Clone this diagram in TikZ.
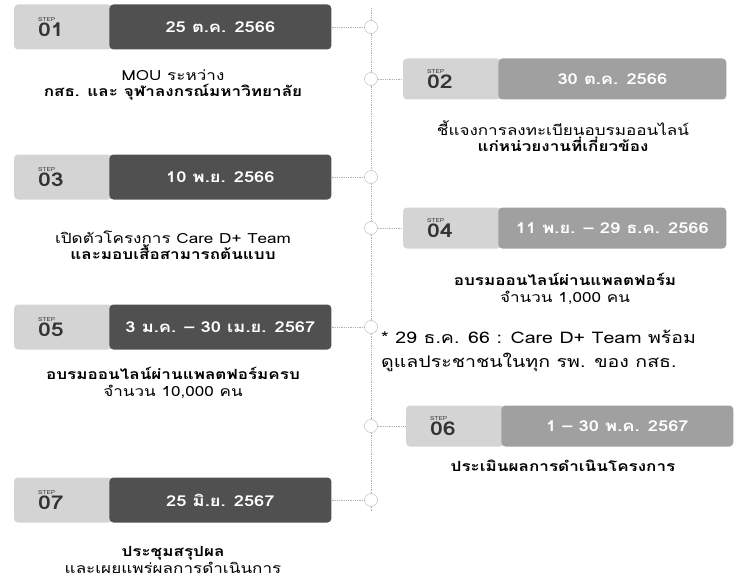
\documentclass[tikz,border=0pt]{standalone}
\usepackage{fontspec}
\setmainfont{Loma}[Script=Thai, FakeStretch=1.22]
\usetikzlibrary{positioning}
\definecolor{tabgray}{HTML}{D4D4D4}
\definecolor{darkdate}{HTML}{505050}
\definecolor{lightdate}{HTML}{A0A0A0}
\definecolor{linegray}{HTML}{B0B0B0}

\newcommand{\stepno}[1]{{\fontsize{5.5}{6}\selectfont STEP}\par\vspace{1pt}{\fontsize{19}{19}\selectfont\bfseries #1}}

\begin{document}
\begin{tikzpicture}[x=1pt, y=-1pt,
  tabbox/.style={rectangle, rounded corners=4pt, fill=tabgray, minimum width=98pt,
    text width=50pt, align=left, inner sep=0pt, text=black!80},
  datebox/.style={rectangle, rounded corners=4pt, text=white, inner sep=0pt,
    font=\fontsize{15}{15}\selectfont\bfseries},
  caption/.style={align=center, font=\fontsize{14}{16.5}\selectfont},
  dot/.style={circle, draw=linegray, fill=white, minimum size=13pt, inner sep=0pt},
  link/.style={densely dotted, draw=linegray, thick}]
  \useasboundingbox (0,0) rectangle (740,586);

  % timeline
  \coordinate (top) at (371,8);
  \coordinate (bottom) at (371,512);
  \node[dot] (dot01) at (371,27) {};
  \node[dot] (dot02) at (371,79) {};
  \node[dot] (dot03) at (371,177) {};
  \node[dot] (dot04) at (371,228) {};
  \node[dot] (dot05) at (371,327) {};
  \node[dot] (dot06) at (371,426) {};
  \node[dot] (dot07) at (371,500) {};
  \draw[link] (top) -- (dot01) -- (dot02) -- (dot03) -- (dot04) -- (dot05)
    -- (dot06) -- (dot07) -- (bottom);

  % left steps
  \node[tabbox, minimum height=45pt] (tab01) at (63,27) {\stepno{01}};
  \node[datebox, fill=darkdate, minimum width=222pt, minimum height=45pt,
        right=-3pt of tab01] (date01) {25 ต.ค. 2566};
  \node[caption] (cap01) at (173,85) {MOU ระหว่าง\\\textbf{กสธ. และ จุฬาลงกรณ์มหาวิทยาลัย}};

  \node[tabbox, minimum height=45pt] (tab03) at (63,177) {\stepno{03}};
  \node[datebox, fill=darkdate, minimum width=222pt, minimum height=45pt,
        right=-3pt of tab03] (date03) {10 พ.ย. 2566};
  \node[caption] (cap03) at (173,245) {เปิดตัวโครงการ Care D+ Team\\\textbf{และมอบเสื้อสามารถต้นแบบ}};

  \node[tabbox, minimum height=45pt] (tab05) at (63,327) {\stepno{05}};
  \node[datebox, fill=darkdate, minimum width=222pt, minimum height=45pt,
        right=-3pt of tab05] (date05) {3 ม.ค. – 30 เม.ย. 2567};
  \node[caption] (cap05) at (173,383) {\textbf{อบรมออนไลน์ผ่านแพลตฟอร์มครบ}\\จำนวน 10,000 คน};

  \node[tabbox, minimum height=45pt] (tab07) at (63,500) {\stepno{07}};
  \node[datebox, fill=darkdate, minimum width=222pt, minimum height=45pt,
        right=-3pt of tab07] (date07) {25 มิ.ย. 2567};
  \node[caption] (cap07) at (173,560) {\textbf{ประชุมสรุปผล}\\และเผยแพร่ผลการดำเนินการ};

  % right steps
  \node[tabbox, minimum height=41pt] (tab02) at (452,79) {\stepno{02}};
  \node[datebox, fill=lightdate, minimum width=228pt, minimum height=41pt,
        right=-3pt of tab02] (date02) {30 ต.ค. 2566};
  \node[caption] (cap02) at (563,136) {ชี้แจงการลงทะเบียนอบรมออนไลน์\\\textbf{แก่หน่วยงานที่เกี่ยวข้อง}};

  \node[tabbox, minimum height=41pt] (tab04) at (452,228) {\stepno{04}};
  \node[datebox, fill=lightdate, minimum width=228pt, minimum height=41pt,
        right=-3pt of tab04] (date04) {11 พ.ย. – 29 ธ.ค. 2566};
  \node[caption] (cap04) at (565,289) {\textbf{อบรมออนไลน์ผ่านแพลตฟอร์ม}\\จำนวน 1,000 คน};

  \node[tabbox, minimum height=41pt] (tab06) at (455,426) {\stepno{06}};
  \node[datebox, fill=lightdate, minimum width=232pt, minimum height=41pt,
        right=-3pt of tab06] (date06) {1 – 30 พ.ค. 2567};
  \node[caption] (cap06) at (563,466) {\textbf{ประเมินผลการดำเนินโครงการ}};

  % note
  \node[align=left, anchor=west, inner sep=0pt, font=\fontsize{16}{24}\selectfont]
    (note) at (381,351) {* 29 ธ.ค. 66 : Care D+ Team พร้อม\\ดูแลประชาชนในทุก รพ. ของ กสธ.};

  % connectors
  \draw[link] (date01) -- (dot01);
  \draw[link] (date03) -- (dot03);
  \draw[link] (date05) -- (dot05);
  \draw[link] (date07) -- (dot07);
  \draw[link] (dot02) -- (tab02);
  \draw[link] (dot04) -- (tab04);
  \draw[link] (dot06) -- (tab06);
\end{tikzpicture}
\end{document}
